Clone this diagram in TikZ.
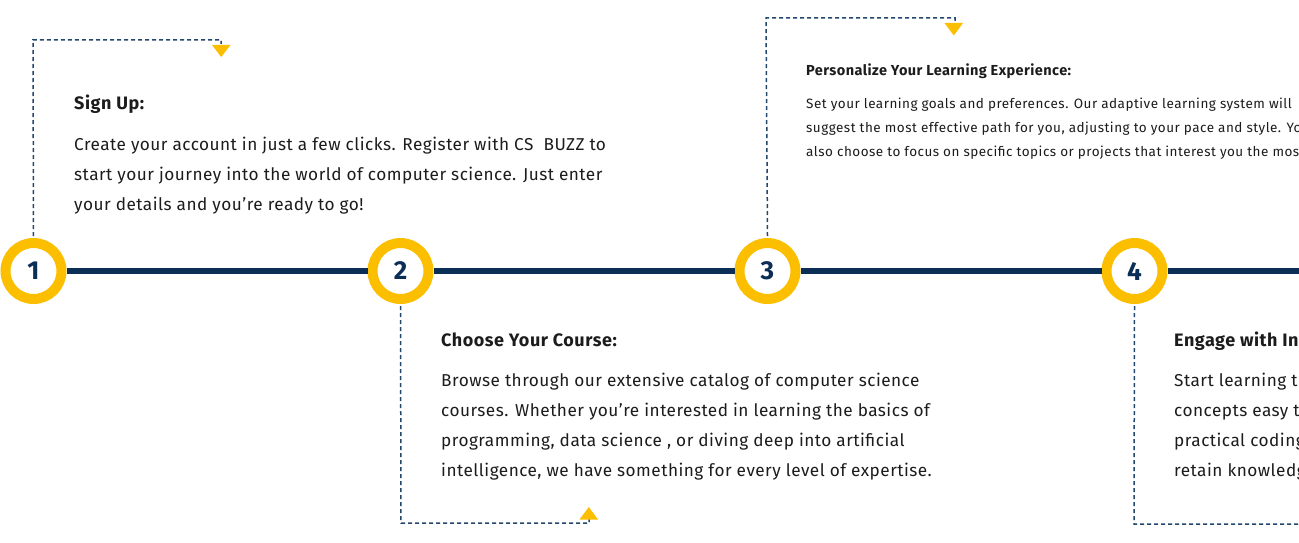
\documentclass[tikz,border=0pt]{standalone}
\usepackage{fontspec}
\setmainfont{Fira Sans}
\definecolor{navy}{HTML}{0A2E55}
\definecolor{dashc}{HTML}{24476D}
\definecolor{gold}{HTML}{FBBF00}
\definecolor{txt}{HTML}{1C1C1C}
\tikzset{
  stepcircle/.style={circle, draw=gold, line width=10pt, fill=white, minimum size=56pt, inner sep=0pt,
    font=\fontsize{26}{26}\selectfont\bfseries, text=navy},
  dashline/.style={draw=dashc, line width=1.5pt, dash pattern=on 4pt off 3pt},
  bigtitle/.style={anchor=base west, inner sep=0pt, text=txt, font=\fontsize{18}{18}\selectfont\bfseries\addfontfeature{LetterSpace=3}},
  bigbody/.style={anchor=base west, inner sep=0pt, text=txt, font=\fontsize{17.2}{18}\selectfont\addfontfeature{LetterSpace=2.8}},
  smalltitle/.style={anchor=base west, inner sep=0pt, text=txt, font=\fontsize{14.5}{15}\selectfont\bfseries\addfontfeature{LetterSpace=3}},
  smallbody/.style={anchor=base west, inner sep=0pt, text=txt, font=\fontsize{13.5}{15}\selectfont\addfontfeature{LetterSpace=3.6}},
  marker/.style={fill=gold},
}
\begin{document}
\begin{tikzpicture}[x=1pt,y=-1pt]
\useasboundingbox (0,0) rectangle (1299,543);
\clip (0,0) rectangle (1299,543);
\fill[white] (0,0) rectangle (1299,543);
% circles
\node[stepcircle] (c1) at (33.5,271) {1};
\node[stepcircle] (c2) at (400.5,271) {2};
\node[stepcircle] (c3) at (767.5,271) {3};
\node[stepcircle] (c4) at (1134.5,271) {4};
\coordinate (cend) at (1310,271);
% timeline
\draw[navy, line width=6.5pt] (c1.east) -- (c2.west);
\draw[navy, line width=6.5pt] (c2.east) -- (c3.west);
\draw[navy, line width=6.5pt] (c3.east) -- (c4.west);
\draw[navy, line width=6.5pt] (c4.east) -- (cend);
% dashed connectors
\coordinate (k1) at (33,40); \coordinate (e1) at (221,40); \coordinate (f1) at (221,44);
\path[dashline] (c1.north) ++(0,-2) -- (k1) -- (e1) -- (f1);
\coordinate (k3) at (766,18); \coordinate (e3) at (955,18); \coordinate (f3) at (955,22);
\path[dashline] (c3.north) ++(0,-2) -- (k3) -- (e3) -- (f3);
\coordinate (k2) at (401,523); \coordinate (e2) at (589,523); \coordinate (f2) at (589,519);
\path[dashline] (c2.south) ++(0,2) -- (k2) -- (e2) -- (f2);
\coordinate (k4) at (1134,524); \coordinate (e4) at (1310,524);
\path[dashline] (c4.south) ++(0,2) -- (k4) -- (e4);
% markers
\fill[marker] (212,45) -- (230.5,45) -- (221.2,57) -- cycle;
\fill[marker] (944.5,23) -- (963,23) -- (953.8,35.5) -- cycle;
\fill[marker] (579.5,519.5) -- (598,519.5) -- (588.8,507) -- cycle;
% step 1
\node[bigtitle] (t1) at (74,110) {Sign Up:};
\node[bigbody] (b11) at (74,150) {Create your account in just a few clicks. Register with CS\ \ BUZZ to};
\node[bigbody] (b12) at (74,180) {start your journey into the world of computer science. Just enter};
\node[bigbody] (b13) at (74,210) {your details and you’re ready to go!};
% step 2
\node[bigtitle] (t2) at (441,346) {Choose Your Course:};
\node[bigbody] (b21) at (441,386) {Browse through our extensive catalog of computer science};
\node[bigbody] (b22) at (441,416) {courses. Whether you’re interested in learning the basics of};
\node[bigbody] (b23) at (441,446) {programming, data science , or diving deep into artificial};
\node[bigbody] (b24) at (441,476) {intelligence, we have something for every level of expertise.};
% step 3
\node[smalltitle] (t3) at (806,75) {Personalize Your Learning Experience:};
\node[smallbody] (b31) at (806,108) {Set your learning goals and preferences. Our adaptive learning system will};
\node[smallbody] (b32) at (806,132) {suggest the most effective path for you, adjusting to your pace and style. You can};
\node[smallbody] (b33) at (806,156) {also choose to focus on specific topics or projects that interest you the most.};
% step 4
\node[bigtitle] (t4) at (1174,346) {Engage with Interactive Lessons:};
\node[bigbody] (b41) at (1174,386) {Start learning through interactive};
\node[bigbody] (b42) at (1174,416) {concepts easy to understand};
\node[bigbody] (b43) at (1174,446) {practical coding exercises};
\node[bigbody] (b44) at (1174,476) {retain knowledge};
\end{tikzpicture}
\end{document}
